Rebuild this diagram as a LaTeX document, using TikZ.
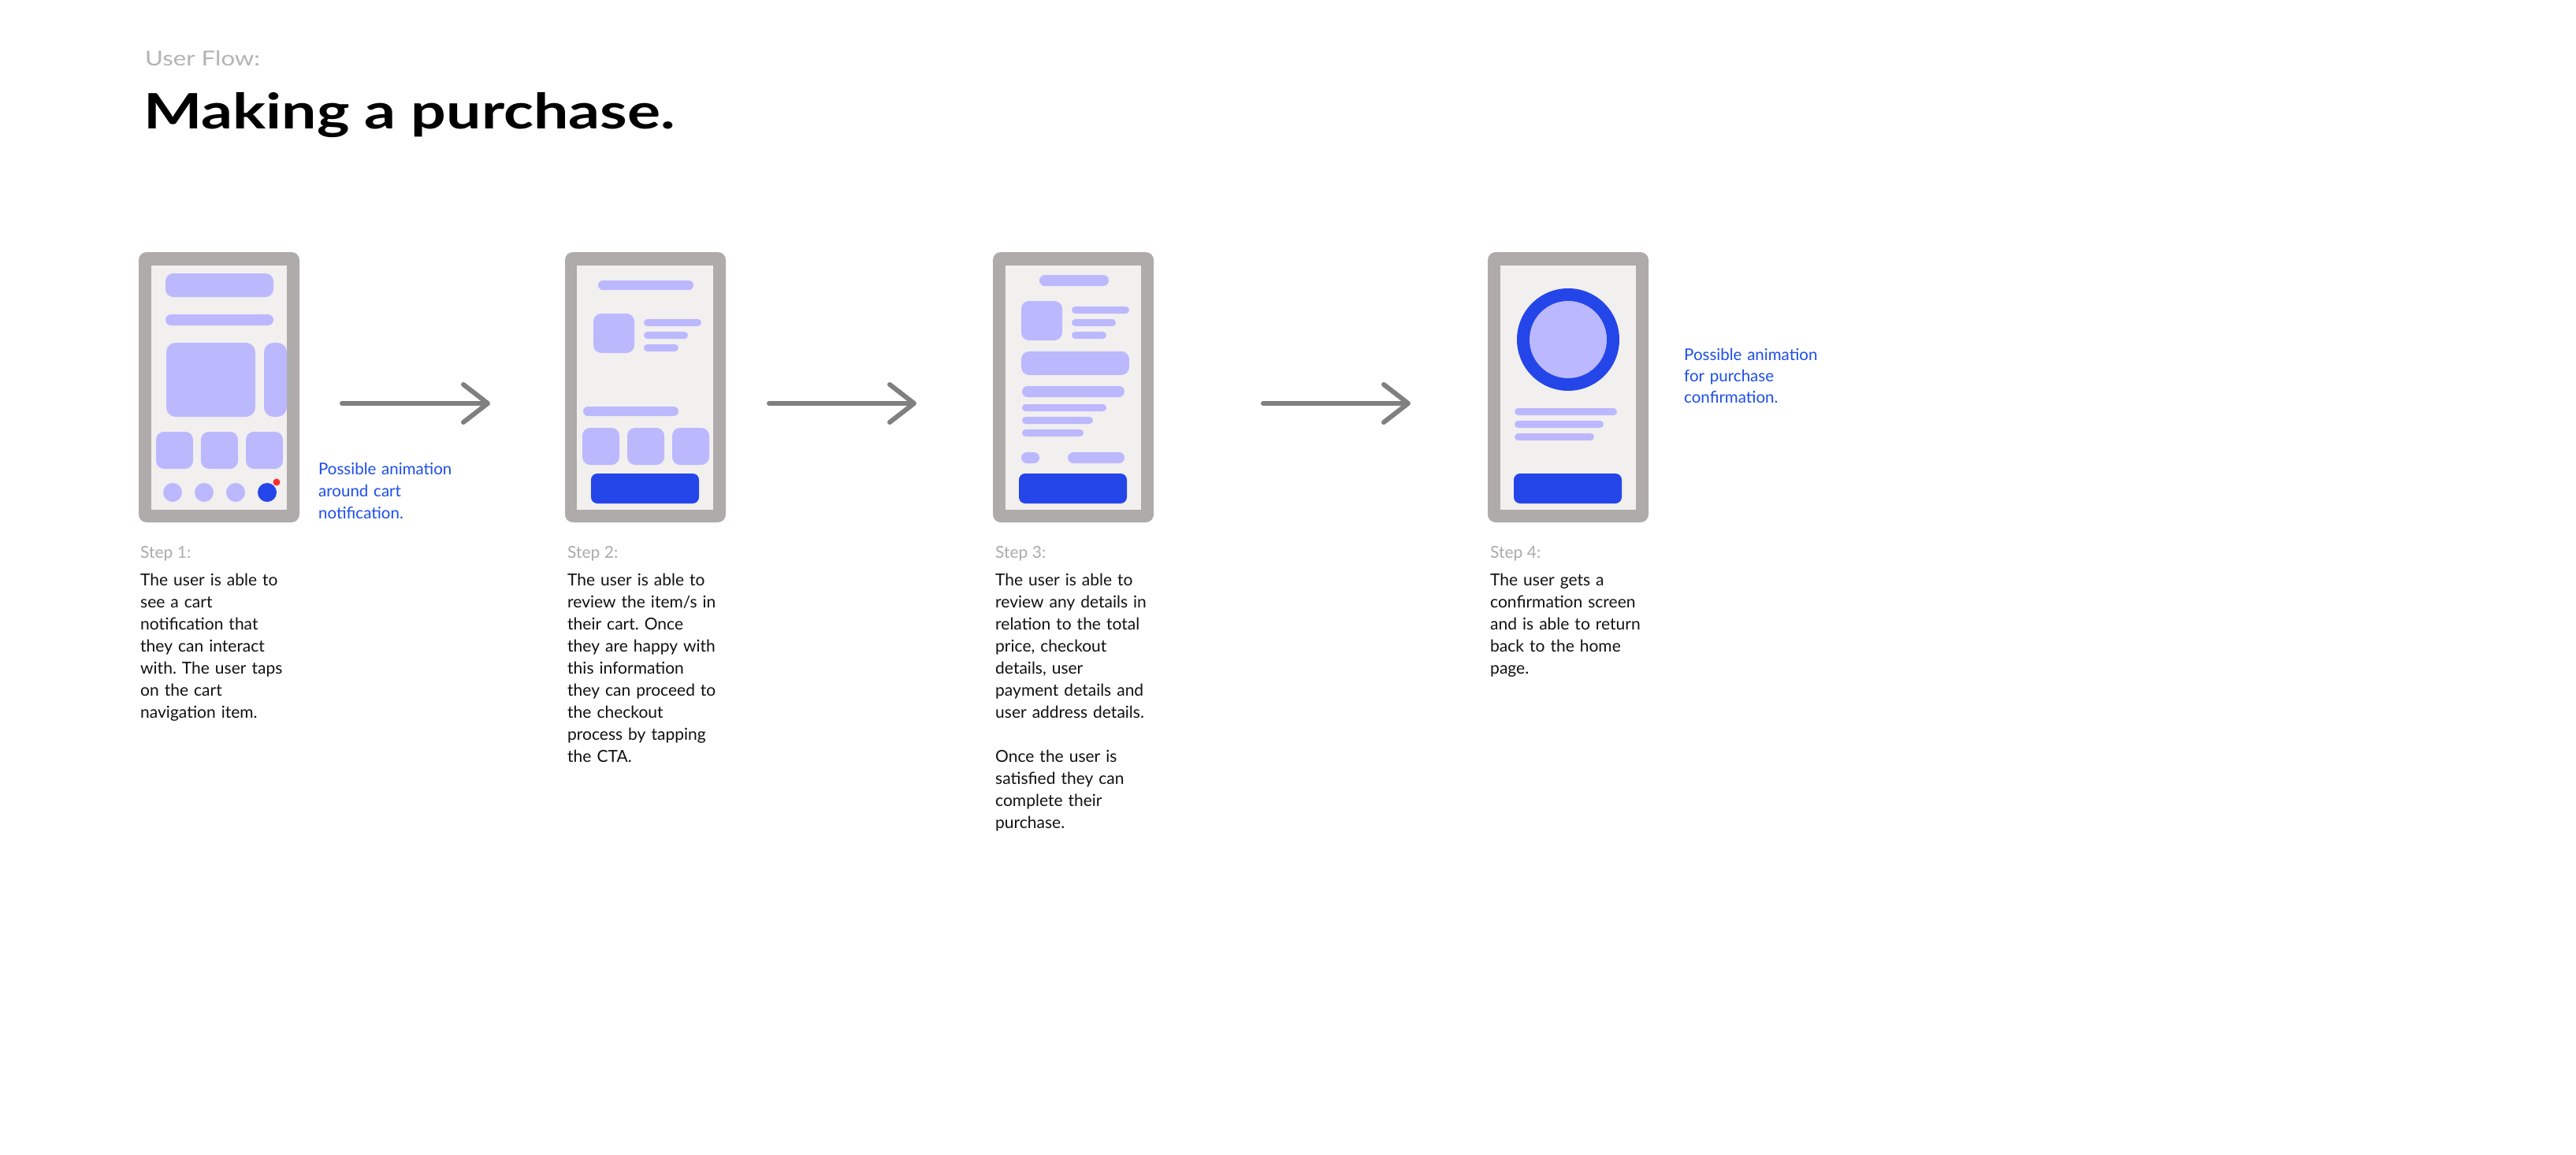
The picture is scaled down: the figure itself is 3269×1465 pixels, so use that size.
\documentclass[tikz,border=0pt]{standalone}
\usepackage{fontspec}
\setmainfont{Lato}
\usepackage{graphicx}
\frenchspacing
\definecolor{lav}{HTML}{BCB8FE}
\definecolor{btnblue}{HTML}{2446E9}
\definecolor{bezelc}{HTML}{AFABAB}
\definecolor{scrc}{HTML}{F2EFEF}
\definecolor{arrowc}{HTML}{808080}
\definecolor{annoc}{HTML}{1C4DEB}
\definecolor{stepc}{HTML}{ABABAB}
\definecolor{titlegray}{HTML}{B3B3B3}
\definecolor{dotred}{HTML}{FF2D2D}
\definecolor{bodyc}{HTML}{111111}
\tikzset{
  bezelnode/.style={rectangle, fill=bezelc, rounded corners=10pt, inner sep=0pt, minimum width=204pt, minimum height=343pt},
  scrn/.style={fill=scrc},
  blk/.style={fill=lav, rounded corners=10pt},
  pill/.style={fill=lav, rounded corners=#1},
  cta/.style={fill=btnblue, rounded corners=8pt},
  flowline/.style={draw=arrowc, line width=6pt, line cap=round, line join=round},
  body/.style={anchor=base west, inner sep=0pt, text width=300pt, align=left, text=bodyc, font=\fontsize{21}{28}\selectfont\frenchspacing},
  steplabel/.style={anchor=base west, inner sep=0pt, text=stepc, font=\fontsize{21}{28}\selectfont},
  anno/.style={anchor=base west, inner sep=0pt, text width=300pt, align=left, text=annoc, font=\fontsize{20.5}{28}\selectfont},
}
\begin{document}
\begin{tikzpicture}[x=1pt, y=-1pt]
\useasboundingbox[fill=white] (0,0) rectangle (3269,1465);

% Titles
\node[anchor=base west, inner sep=0pt, text=titlegray, font=\fontsize{26}{30}\selectfont] (sub) at (184,83) {\scalebox{1.2}[1]{User Flow:}};
\node[anchor=base west, inner sep=0pt, text=black, font=\fontsize{62}{70}\selectfont\bfseries] (title) at (182,163) {\scalebox{1.27}[1]{Making a purchase.}};

% ---------- Phone 1 ----------
\node[bezelnode] (p1) at (278,491.5) {};
\fill[scrn] (192,337) rectangle (364,647);
\fill[blk] (210,347) rectangle (347,377);
\fill[pill=7pt] (210,399) rectangle (347,413);
\fill[blk, rounded corners=12pt] (211,435) rectangle (324,529);
\fill[blk, rounded corners=12pt] (335,435) rectangle (364,529);
\fill[blk] (198,548) rectangle (245,595);
\fill[blk] (255,548) rectangle (302,595);
\fill[blk] (312,548) rectangle (359,595);
\fill[lav] (219,625) circle[radius=12];
\fill[lav] (259,625) circle[radius=12];
\fill[lav] (299,625) circle[radius=12];
\fill[btnblue] (339,625) circle[radius=12];
\fill[dotred] (351,612) circle[radius=4.5];

% ---------- Phone 2 ----------
\node[bezelnode] (p2) at (819,491.5) {};
\fill[scrn] (732,337) rectangle (905,647);
\fill[pill=6pt] (759,356) rectangle (880,368);
\fill[blk] (753,398) rectangle (805,448);
\fill[pill=4.5pt] (817,405) rectangle (890,414);
\fill[pill=4.5pt] (817,421) rectangle (873,430);
\fill[pill=4.5pt] (817,437) rectangle (861,446);
\fill[pill=6pt] (740,516) rectangle (861,528);
\fill[blk] (739,543) rectangle (786,590);
\fill[blk] (796,543) rectangle (843,590);
\fill[blk] (853,543) rectangle (900,590);
\fill[cta] (750,601) rectangle (887,639);

% ---------- Phone 3 ----------
\node[bezelnode] (p3) at (1362,491.5) {};
\fill[scrn] (1276,337) rectangle (1448,647);
\fill[pill=7pt] (1319,349) rectangle (1407,363);
\fill[blk] (1296,382) rectangle (1348,432);
\fill[pill=4.5pt] (1360,389) rectangle (1433,398);
\fill[pill=4.5pt] (1360,405) rectangle (1416,414);
\fill[pill=4.5pt] (1360,421) rectangle (1404,430);
\fill[blk] (1296,446) rectangle (1433,476);
\fill[pill=7pt] (1297,490) rectangle (1427,504);
\fill[pill=4.5pt] (1297,513) rectangle (1404,522);
\fill[pill=4.5pt] (1297,529) rectangle (1387,538);
\fill[pill=4.5pt] (1297,545) rectangle (1375,554);
\fill[pill=7pt] (1296,574) rectangle (1319,588);
\fill[pill=7pt] (1355,574) rectangle (1427,588);
\fill[cta] (1293,601) rectangle (1430,639);

% ---------- Phone 4 ----------
\node[bezelnode] (p4) at (1990,491.5) {};
\fill[scrn] (1904,337) rectangle (2076,647);
\fill[btnblue] (1990,431) circle[radius=65];
\fill[lav] (1990,431) circle[radius=49];
\fill[pill=4.5pt] (1922,518) rectangle (2052,527);
\fill[pill=4.5pt] (1922,534) rectangle (2035,543);
\fill[pill=4.5pt] (1922,550) rectangle (2023,559);
\fill[cta] (1921,601) rectangle (2058,639);

% ---------- Arrows ----------
\coordinate (a1s) at (434,512); \coordinate (a1e) at (619,512);
\coordinate (a2s) at (976,512); \coordinate (a2e) at (1160,512);
\coordinate (a3s) at (1603,512); \coordinate (a3e) at (1787,512);
\foreach \s/\e in {a1s/a1e, a2s/a2e, a3s/a3e}{
  \draw[flowline] (\s) -- ([xshift=-3pt]\e);
  \draw[flowline] ([shift={(-31,-24)}]\e) -- (\e) -- ([shift={(-31,24)}]\e);
}

% ---------- Annotations ----------
\node[anno] (n1) at (404,602) {Possible animation\\around cart\\notification.};
\node[anno, font=\fontsize{20.5}{27}\selectfont] (n2) at (2137,457) {Possible animation\\for purchase\\confirmation.};

% ---------- Step texts ----------
\node[steplabel] (s1) at (178,708) {Step 1:};
\node[body] (t1) at (178,743) {The user is able to\\see a cart\\notification that\\they can interact\\with. The user taps\\on the cart\\navigation item.};

\node[steplabel] (s2) at (720,708) {Step 2:};
\node[body] (t2) at (720,743) {The user is able to\\review the item/s in\\their cart. Once\\they are happy with\\this information\\they can proceed to\\the checkout\\process by tapping\\the CTA.};

\node[steplabel] (s3) at (1263,708) {Step 3:};
\node[body] (t3) at (1263,743) {The user is able to\\review any details in\\relation to the total\\price, checkout\\details, user\\payment details and\\user address details.\\[28pt]Once the user is\\satisfied they can\\complete their\\purchase.};

\node[steplabel] (s4) at (1891,708) {Step 4:};
\node[body] (t4) at (1891,743) {The user gets a\\confirmation screen\\and is able to return\\back to the home\\page.};
\end{tikzpicture}
\end{document}
